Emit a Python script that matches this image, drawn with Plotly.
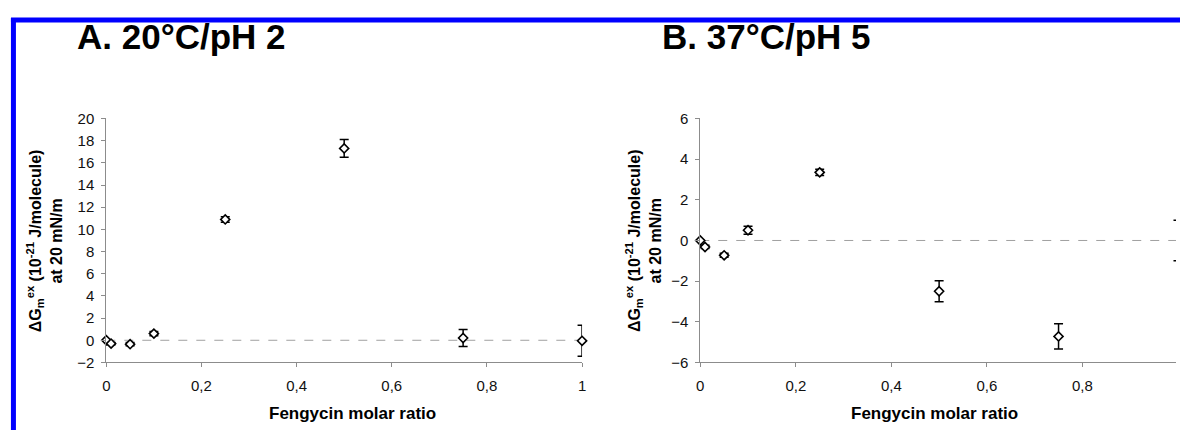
import plotly.graph_objects as go

W, H = 1180, 430

# ---- data ----
ratio = [0, 0.01, 0.05, 0.1, 0.25, 0.5, 0.75, 1]
dg_A = [0.0, -0.3, -0.35, 0.6, 10.9, 17.3, 0.2, -0.05]
err_A = [0.0, 0.1, 0.15, 0.2, 0.25, 0.8, 0.77, 1.4]
dg_B = [0.0, -0.32, -0.73, 0.5, 3.35, -2.5, -4.72, 0.0]
err_B = [0.0, 0.08, 0.1, 0.2, 0.15, 0.52, 0.62, 1.0]
zero_x = [0, 1.05]
zero_y = [0, 0]

titles = ["A. 20°C/pH 2", "B. 37°C/pH 5"]
ytitle = "ΔG<sub>m</sub><sup>ex</sup> (10<sup>-21</sup> J/molecule)<br>at 20 mN/m"
xtitle = "Fengycin molar ratio"

FONT = "Liberation Sans, Arial, sans-serif"

def px(x):
    return x / W

def py(y):
    return 1 - y / H

fig = go.Figure()

for i, (ys, es) in enumerate([(dg_A, err_A), (dg_B, err_B)]):
    xa = "x" if i == 0 else "x2"
    ya = "y" if i == 0 else "y2"
    fig.add_trace(go.Scatter(
        x=zero_x, y=zero_y, xaxis=xa, yaxis=ya, mode="lines",
        line=dict(color="#a0a0a0", width=1, dash="dash"),
        hoverinfo="skip", showlegend=False))
    fig.add_trace(go.Scatter(
        x=ratio, y=ys, xaxis=xa, yaxis=ya, mode="markers",
        marker=dict(symbol="diamond", size=7, color="white",
                    line=dict(color="black", width=1.6)),
        error_y=dict(type="data", array=es, visible=True,
                     color="black", thickness=1.5, width=4.5),
        cliponaxis=False, showlegend=False))

# domains in pixels
A_x0, A_x1 = 103, 582
B_x0, B_x1 = 701, 1180
y_top, y_bot = 114, 368

axis_common = dict(
    showgrid=False, zeroline=False, showline=True, linecolor="#8c8c8c",
    linewidth=1, ticks="outside", ticklen=4, tickcolor="#8c8c8c",
    tickfont=dict(family=FONT, size=15, color="#111111"),
)

fig.update_layout(
    width=W, height=H,
    margin=dict(l=0, r=0, t=0, b=0),
    paper_bgcolor="white", plot_bgcolor="white",
    separators=", ",
    showlegend=False,
    xaxis=dict(domain=[px(A_x0), px(A_x1)], range=[0, 1], tick0=0, dtick=0.2,
               anchor="y", ticklabelstandoff=6, **axis_common),
    yaxis=dict(domain=[py(y_bot), py(y_top)], range=[-2, 20], dtick=2,
               anchor="x", ticklabelstandoff=4, **axis_common),
    xaxis2=dict(domain=[px(B_x0), 1.0], range=[0, (B_x1 - B_x0) / 481.0],
                tick0=0, dtick=0.2, anchor="y2", ticklabelstandoff=6, **axis_common),
    yaxis2=dict(domain=[py(y_bot), py(y_top)], range=[-6, 6], dtick=2,
                anchor="x2", ticklabelstandoff=4, **axis_common),
)

annotations = []
# panel titles
for t, x0 in zip(titles, [71, 660]):
    annotations.append(dict(text="<b>" + t + "</b>", xref="paper", yref="paper",
                            x=px(x0), y=py(6), xanchor="left", yanchor="top",
                            showarrow=False,
                            font=dict(family=FONT, size=35, color="black")))
# y titles
for xc in [41, 644]:
    annotations.append(dict(text="<b>" + ytitle + "</b>", xref="paper", yref="paper",
                            x=px(xc), y=py((y_top + y_bot) / 2),
                            xanchor="center", yanchor="middle", textangle=-90,
                            showarrow=False,
                            font=dict(family=FONT, size=16, color="black")))
# x titles
for xc in [(A_x0 + A_x1) / 2 + 8, (B_x0 + 1182) / 2 - 5]:
    annotations.append(dict(text="<b>" + xtitle + "</b>", xref="paper", yref="paper",
                            x=px(xc), y=py(421), xanchor="center", yanchor="middle",
                            showarrow=False,
                            font=dict(family=FONT, size=17, color="black")))
fig.update_layout(annotations=annotations)

# blue frame
fig.add_shape(type="line", xref="paper", yref="paper",
              x0=px(9.5), x1=px(9.5), y0=py(9.5), y1=py(440),
              line=dict(color="#0000ff", width=5))
fig.add_shape(type="line", xref="paper", yref="paper",
              x0=px(7), x1=px(1190), y0=py(11.5), y1=py(11.5),
              line=dict(color="#0000ff", width=5))

fig.write_html(
    "out.html",
    config={"displayModeBar": False},
    post_script="document.body.style.margin='0';"
                "document.body.style.overflow='hidden';",
)
